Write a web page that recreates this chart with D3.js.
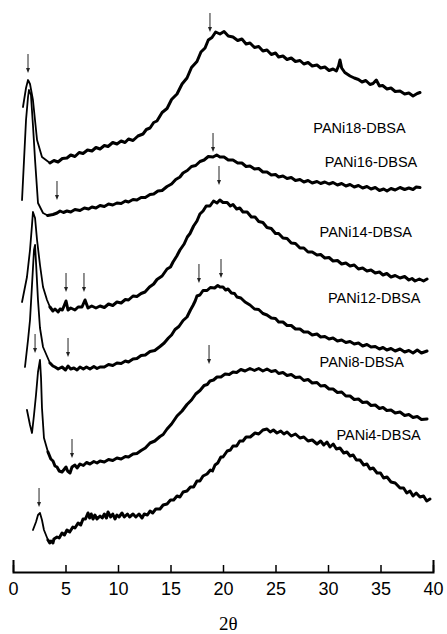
<!DOCTYPE html>
<html>
<head>
<meta charset="utf-8">
<script src="https://cdn.jsdelivr.net/npm/d3@7"></script>
<style>
  html, body { margin: 0; padding: 0; background: #fff; }
  svg { display: block; }
</style>
</head>
<body>
<svg id="chart" width="447" height="634"></svg>
<script>
// XRD patterns of PANi-DBSA samples, offset vertically (intensity in a.u.)
const sampleNames = ["PANi18-DBSA", "PANi16-DBSA", "PANi14-DBSA", "PANi12-DBSA", "PANi8-DBSA", "PANi4-DBSA"];

// [2θ (deg), intensity (a.u., stacked)]
const pani18 = [[0.95,93.0],[1.24,96.8],[1.43,98.4],[1.62,97.6],[1.90,94.4],[2.29,86.4],[2.76,83.0],
  [3.52,81.8],[3.9,82.3],[4.29,82.0],[4.7,82.7],[5.14,82.8],[5.5,83.4],[5.9,83.1],[6.3,83.9],[6.67,83.7],[7.1,84.4],[7.52,84.2],[7.9,84.9],[8.29,84.6],[8.7,85.3],[9.05,85.1],[9.5,85.9],[9.9,85.6],[10.3,86.2],[10.67,85.9],[11.0,86.6],[11.43,86.3],[11.9,87.2],[12.38,87.6],[12.7,88.5],[13.05,88.8],[13.4,89.9],[13.71,90.2],[14.2,91.9],[14.67,92.7],[15.1,94.5],[15.62,95.6],[16.1,97.6],[16.57,98.8],[17.0,100.9],[17.52,102.1],[17.9,104.0],[18.29,104.8],[18.6,106.4],[18.95,106.9],[19.3,108.0],[19.71,107.6],[20.1,108.1],[20.5,107.2],[20.95,107.0],[21.4,106.3],[21.8,106.6],[22.2,105.6],[22.57,105.8],[23.0,104.9],[23.4,105.1],[23.8,104.2],[24.19,104.4],[24.6,103.5],[25.0,103.8],[25.3,103.0],[25.71,103.2],[26.1,102.5],[26.5,102.8],[26.9,102.1],[27.33,102.3],[27.7,101.6],[28.1,101.9],[28.5,101.2],[28.95,101.4],[29.3,100.8],[29.7,101.0],[30.1,100.3],[30.48,100.6],[30.8,100.2],[31.0,101.2],[31.14,102.4],[31.3,100.8],[31.6,99.9],[32.1,99.2],[32.5,98.8],[32.9,98.5],[33.24,98.0],[33.6,98.3],[34.0,97.5],[34.29,97.7],[34.6,98.4],[34.9,97.2],[35.2,97.3],[35.62,96.6],[36.0,96.8],[36.4,96.1],[36.86,96.2],[37.3,95.6],[37.7,95.8],[38.1,95.2],[38.5,95.7],[38.76,95.9]];
const pani16 = [[0.86,74.4],[1.05,82.4],[1.24,90.4],[1.43,95.0],[1.52,96.4],[1.71,95.4],[1.90,89.4],[2.10,82.4],[2.38,73.8],
  [2.86,71.8],[3.3,71.3],[3.81,71.5],[4.2,71.8],[4.48,72.2],[4.8,71.9],[5.14,72.2],[5.5,72.0],[5.9,72.5],[6.38,72.3],[6.8,72.8],[7.2,72.6],[7.52,73.0],[7.9,72.8],[8.29,73.3],[8.7,73.1],[9.1,73.6],[9.5,73.4],[9.9,73.8],[10.3,73.7],[10.7,74.2],[11.0,74.0],[11.43,74.5],[11.8,74.4],[12.2,74.9],[12.6,74.9],[13.05,75.5],[13.4,75.6],[13.8,76.2],[14.2,76.3],[14.67,77.1],[15.1,77.6],[15.5,78.5],[15.9,79.0],[16.19,79.8],[16.6,80.3],[17.0,81.1],[17.4,81.3],[17.81,82.1],[18.2,82.4],[18.6,83.1],[19.05,83.0],[19.4,83.4],[19.71,83.0],[20.1,83.0],[20.5,82.4],[20.95,82.4],[21.4,81.8],[21.8,81.8],[22.2,81.1],[22.57,81.2],[23.0,80.6],[23.4,80.7],[23.8,80.0],[24.19,80.0],[24.6,79.4],[25.0,79.5],[25.3,79.0],[25.71,79.2],[26.1,78.7],[26.5,78.9],[26.9,78.3],[27.33,78.5],[27.7,78.0],[28.1,78.3],[28.5,77.8],[28.95,78.1],[29.3,77.7],[29.7,78.0],[30.1,77.6],[30.48,77.9],[30.9,77.4],[31.3,77.7],[31.7,77.2],[32.1,77.5],[32.5,77.0],[32.9,77.3],[33.3,76.8],[33.71,77.1],[34.1,76.6],[34.5,76.9],[34.9,76.3],[35.3,76.6],[35.62,76.2],[36.0,76.7],[36.4,76.4],[36.86,76.9],[37.3,76.5],[37.7,76.8],[38.1,76.5],[38.4,77.0],[38.76,76.9]];
const pani14 = [[0.86,54.0],[1.33,59.0],[1.62,64.4],[1.81,69.4],[1.90,72.0],[2.10,70.8],[2.29,66.4],[2.57,61.4],[2.86,57.0],[3.24,54.4],
  [3.52,53.0],[3.8,52.2],[4.0,52.6],[4.3,52.0],[4.48,52.6],[4.7,52.4],[4.86,53.2],[5.05,54.2],[5.24,52.4],[5.5,52.8],[5.9,52.4],[6.2,53.0],[6.57,53.0],[6.86,54.4],[7.14,52.8],[7.5,53.2],[7.9,52.8],[8.29,53.2],[8.7,52.9],[9.1,53.6],[9.5,53.3],[9.9,54.0],[10.3,53.8],[10.7,54.5],[11.0,54.4],[11.43,55.2],[11.8,55.1],[12.2,55.7],[12.57,56.0],[13.0,57.0],[13.4,57.6],[13.71,58.5],[14.2,59.2],[14.67,60.6],[15.0,61.0],[15.24,62.0],[15.6,63.2],[15.9,64.4],[16.3,65.6],[16.6,67.0],[16.86,67.7],[17.2,69.2],[17.52,70.2],[17.8,71.6],[18.1,72.2],[18.4,73.2],[18.76,73.2],[19.1,74.2],[19.43,73.8],[19.7,74.4],[20.0,73.9],[20.4,73.9],[20.7,73.2],[20.95,73.5],[21.3,72.6],[21.6,72.8],[21.9,72.0],[22.3,72.0],[22.7,71.0],[23.05,71.0],[23.4,70.1],[23.8,69.9],[24.19,68.9],[24.6,68.7],[25.0,67.7],[25.3,67.7],[25.71,66.8],[26.1,66.7],[26.5,65.8],[26.9,65.7],[27.33,64.8],[27.7,64.8],[28.1,64.0],[28.5,64.0],[28.95,63.4],[29.3,63.5],[29.7,62.8],[30.1,62.9],[30.48,62.2],[30.9,62.3],[31.3,61.6],[31.7,61.8],[32.1,61.2],[32.5,61.4],[32.9,60.6],[33.3,60.8],[33.71,60.2],[34.1,60.4],[34.5,59.8],[34.9,60.0],[35.24,59.4],[35.6,59.7],[36.0,59.0],[36.4,59.3],[36.86,58.8],[37.3,59.1],[37.7,58.4],[38.0,58.7],[38.29,58.2],[38.7,58.6],[39.1,58.2],[39.43,58.6]];
const pani12 = [[1.14,41.0],[1.43,46.4],[1.62,50.4],[1.81,57.4],[2.00,64.4],[2.10,65.4],[2.19,62.0],[2.38,54.4],[2.57,48.8],[2.86,45.0],
  [3.52,41.8],[3.8,41.2],[4.0,41.0],[4.3,40.6],[4.67,41.0],[5.0,40.4],[5.24,41.2],[5.5,40.6],[5.8,40.8],[6.1,40.4],[6.38,41.0],[6.7,40.6],[7.0,41.0],[7.33,40.6],[7.7,41.1],[8.0,40.7],[8.29,41.0],[8.7,41.0],[9.1,41.5],[9.5,41.3],[9.9,41.8],[10.3,41.7],[10.7,42.2],[11.0,42.0],[11.43,42.6],[11.8,42.7],[12.2,43.3],[12.6,43.4],[13.05,44.1],[13.5,44.3],[14.0,45.1],[14.4,45.8],[14.8,46.8],[15.1,47.4],[15.43,48.5],[15.8,49.1],[16.2,50.3],[16.57,51.0],[16.9,52.4],[17.14,53.3],[17.35,54.2],[17.52,55.2],[17.8,55.4],[18.1,56.3],[18.48,56.3],[18.8,56.9],[19.2,56.8],[19.5,57.3],[19.71,57.0],[20.0,57.0],[20.25,56.4],[20.48,56.6],[20.8,55.8],[21.1,55.7],[21.33,55.0],[21.7,54.8],[22.1,54.0],[22.57,53.4],[23.0,52.6],[23.4,52.5],[23.8,51.7],[24.19,51.4],[24.6,50.8],[25.0,50.7],[25.3,50.0],[25.71,50.0],[26.1,49.3],[26.5,49.3],[26.9,48.6],[27.33,48.6],[27.7,48.0],[28.1,48.0],[28.5,47.4],[28.95,47.6],[29.3,47.0],[29.7,47.1],[30.1,46.6],[30.48,46.8],[30.9,46.2],[31.3,46.4],[31.7,45.9],[32.1,46.1],[32.5,45.6],[32.9,45.8],[33.3,45.2],[33.71,45.5],[34.1,45.0],[34.5,45.1],[34.9,44.6],[35.24,44.9],[35.6,44.4],[36.0,44.7],[36.4,44.2],[36.86,44.6],[37.3,44.0],[37.7,44.3],[38.1,43.8],[38.5,44.4],[38.9,43.8],[39.43,44.2]];
const pani8 = [[1.33,32.4],[1.62,29.4],[1.81,27.8],[2.00,31.4],[2.19,35.4],[2.38,40.0],[2.57,42.4],[2.67,38.8],[2.76,32.8],[2.95,26.8],
  [3.33,24.0],[3.6,22.6],[3.81,22.2],[4.0,21.2],[4.19,21.0],[4.4,20.2],[4.67,20.0],[4.9,20.6],[5.05,21.0],[5.2,20.2],[5.43,19.8],[5.62,21.0],[5.9,21.4],[6.1,20.8],[6.38,21.6],[6.7,21.3],[7.0,21.9],[7.33,21.6],[7.7,22.1],[8.0,21.8],[8.29,22.2],[8.7,22.0],[9.1,22.5],[9.5,22.3],[9.9,22.8],[10.3,22.6],[10.7,23.1],[11.0,23.0],[11.43,23.6],[11.8,23.7],[12.2,24.3],[12.6,24.8],[13.05,25.8],[13.5,26.2],[14.0,27.1],[14.3,27.5],[14.67,28.6],[15.1,29.6],[15.62,31.2],[16.1,32.2],[16.57,33.5],[17.0,34.4],[17.4,35.6],[17.81,36.3],[18.2,37.3],[18.5,37.5],[18.76,38.2],[19.1,38.4],[19.43,39.0],[19.8,39.0],[20.2,39.6],[20.6,39.5],[20.95,40.0],[21.3,39.9],[21.7,40.5],[22.1,40.2],[22.57,40.7],[23.0,40.3],[23.4,40.7],[23.8,40.2],[24.19,40.6],[24.6,40.1],[25.0,40.3],[25.3,39.7],[25.71,39.9],[26.1,39.3],[26.5,39.5],[26.9,38.9],[27.33,39.0],[27.7,38.3],[28.1,38.5],[28.5,37.8],[28.95,37.9],[29.3,37.2],[29.7,37.3],[30.1,36.6],[30.48,36.6],[30.9,35.9],[31.3,36.0],[31.7,35.2],[32.1,35.2],[32.5,34.5],[32.9,34.6],[33.3,33.9],[33.71,34.0],[34.1,33.3],[34.5,33.4],[34.9,32.7],[35.24,32.9],[35.6,32.3],[36.0,32.4],[36.4,31.8],[36.86,32.0],[37.3,31.3],[37.7,31.5],[38.1,30.9],[38.5,31.1],[38.9,30.5],[39.43,30.6]];
const pani4 = [[1.90,8.4],[2.19,10.0],[2.38,11.4],[2.57,11.8],[2.76,10.4],[2.95,8.4],
  [3.33,6.4],[3.5,5.8],[3.62,6.2],[3.8,5.8],[3.9,6.6],[4.19,7.0],[4.4,6.8],[4.67,7.8],[4.9,7.4],[5.14,8.4],[5.4,8.0],[5.7,9.0],[5.9,8.8],[6.2,9.8],[6.45,9.4],[6.67,10.6],[6.9,10.6],[7.14,11.8],[7.3,10.8],[7.45,11.6],[7.62,10.6],[7.8,11.4],[8.0,10.6],[8.29,11.2],[8.5,10.8],[8.7,11.6],[8.9,10.8],[9.05,12.0],[9.3,11.0],[9.5,11.6],[9.71,10.6],[9.9,11.4],[10.1,11.0],[10.38,11.8],[10.6,11.0],[10.9,11.6],[11.1,11.0],[11.43,11.6],[11.7,11.0],[12.0,11.6],[12.29,10.8],[12.5,11.6],[12.8,11.4],[13.05,12.2],[13.3,11.8],[13.6,12.6],[14.0,12.6],[14.3,13.4],[14.67,13.6],[15.0,14.4],[15.3,14.4],[15.62,15.2],[15.9,15.0],[16.2,16.0],[16.57,16.2],[16.9,17.0],[17.2,17.0],[17.52,18.2],[17.8,18.2],[18.1,19.2],[18.48,19.6],[18.8,20.4],[19.0,20.2],[19.24,21.4],[19.5,21.8],[19.8,23.0],[20.0,23.0],[20.4,24.2],[20.7,24.4],[20.95,25.2],[21.3,25.2],[21.6,26.2],[21.9,26.2],[22.2,27.0],[22.6,27.0],[23.05,27.8],[23.4,27.6],[23.8,28.4],[24.19,28.6],[24.5,28.0],[24.8,28.4],[25.14,27.8],[25.5,28.2],[25.8,27.6],[26.1,28.0],[26.5,27.2],[26.9,27.6],[27.33,26.8],[27.7,27.0],[28.1,26.2],[28.5,26.4],[28.95,25.6],[29.3,26.2],[29.6,25.4],[29.9,26.0],[30.19,25.0],[30.5,25.6],[30.8,24.6],[31.14,24.8],[31.5,23.8],[31.8,24.0],[32.1,23.2],[32.4,23.4],[32.7,22.4],[33.05,22.4],[33.4,21.4],[33.71,21.6],[34.0,20.6],[34.3,20.8],[34.67,19.8],[35.0,19.8],[35.3,18.8],[35.62,19.0],[36.0,18.0],[36.4,17.8],[36.86,16.8],[37.2,16.8],[37.5,15.8],[37.81,16.2],[38.1,15.2],[38.4,15.8],[38.76,15.0],[39.1,15.2],[39.4,14.2],[39.71,14.6]];

// reflection markers: [2θ, intensity at arrow tip]
const arrows18 = [[1.43,99.8],[18.76,108.0]];
const arrows16 = [[4.19,74.4],[19.05,84.0]];
const arrows14 = [[5.05,56.0],[6.76,56.0],[19.62,77.4]];
const arrows12 = [[5.24,43.0],[17.71,57.8],[19.81,58.8]];
const arrows8 = [[2.10,43.8],[5.62,22.8],[18.67,41.6]];
const arrows4 = [[2.48,13.0]];

const xTicks = [0, 5, 10, 15, 20, 25, 30, 35, 40];

const series = [
  { name: sampleNames[0], data: pani18, arrows: arrows18 },
  { name: sampleNames[1], data: pani16, arrows: arrows16 },
  { name: sampleNames[2], data: pani14, arrows: arrows14 },
  { name: sampleNames[3], data: pani12, arrows: arrows12 },
  { name: sampleNames[4], data: pani8, arrows: arrows8 },
  { name: sampleNames[5], data: pani4, arrows: arrows4 }
];

// label anchor in data coordinates [2θ, intensity]
const labelAnchors = [[28.6, 87.8], [29.7, 81.0], [29.2, 67.0], [30.0, 53.8], [29.2, 41.0], [30.8, 26.4]];

const svg = d3.select("#chart");
const x = d3.scaleLinear().domain([0, 40]).range([13, 433]);
const y = d3.scaleLinear().domain([0, 110]).range([572, 22]);

const line = d3.line().x(d => x(d[0])).y(d => y(d[1])).curve(d3.curveLinear);

const g = svg.append("g");

series.forEach((s, i) => {
  // sharp low-angle reflection drawn as a finer trace, the rest as a heavy trace
  const split = s.data.findIndex(d => d[0] >= 3.3);
  g.append("path")
    .attr("d", line(s.data.slice(0, split + 1)))
    .attr("fill", "none")
    .attr("stroke", "#000")
    .attr("stroke-width", 1.8)
    .attr("stroke-linejoin", "round")
    .attr("stroke-linecap", "round");
  g.append("path")
    .attr("d", line(s.data.slice(split)))
    .attr("fill", "none")
    .attr("stroke", "#000")
    .attr("stroke-width", 3)
    .attr("stroke-linejoin", "round")
    .attr("stroke-linecap", "round");

  s.arrows.forEach(a => {
    const ax = x(a[0]), ay = y(a[1]);
    g.append("line")
      .attr("x1", ax).attr("x2", ax)
      .attr("y1", ay - 19).attr("y2", ay - 3)
      .attr("stroke", "#222").attr("stroke-width", 1);
    g.append("path")
      .attr("d", `M${ax - 2},${ay - 5}L${ax},${ay}L${ax + 2},${ay - 5}Z`)
      .attr("fill", "#222");
  });

  g.append("text")
    .attr("x", x(labelAnchors[i][0]))
    .attr("y", y(labelAnchors[i][1]))
    .attr("font-family", "Liberation Sans, Arial, sans-serif")
    .attr("font-size", 14.5)
    .attr("fill", "#000")
    .text(s.name);
});

// 2θ axis with ticks pointing up
const axis = d3.axisBottom(x)
  .tickValues(xTicks)
  .tickSizeInner(-7)
  .tickSizeOuter(-12)
  .tickPadding(10);

const ax = svg.append("g")
  .attr("transform", "translate(0,572)")
  .call(axis);
ax.select(".domain").attr("stroke", "#000").attr("stroke-width", 2);
ax.selectAll(".tick line").attr("stroke", "#000").attr("stroke-width", 1.5);
ax.selectAll(".tick text")
  .attr("font-family", "Liberation Sans, Arial, sans-serif")
  .attr("font-size", 18)
  .attr("fill", "#000");

svg.append("text")
  .attr("x", x(20.5))
  .attr("y", 630)
  .attr("text-anchor", "middle")
  .attr("font-family", "Liberation Serif, Times New Roman, serif")
  .attr("font-size", 19)
  .text("2θ");
</script>
</body>
</html>
